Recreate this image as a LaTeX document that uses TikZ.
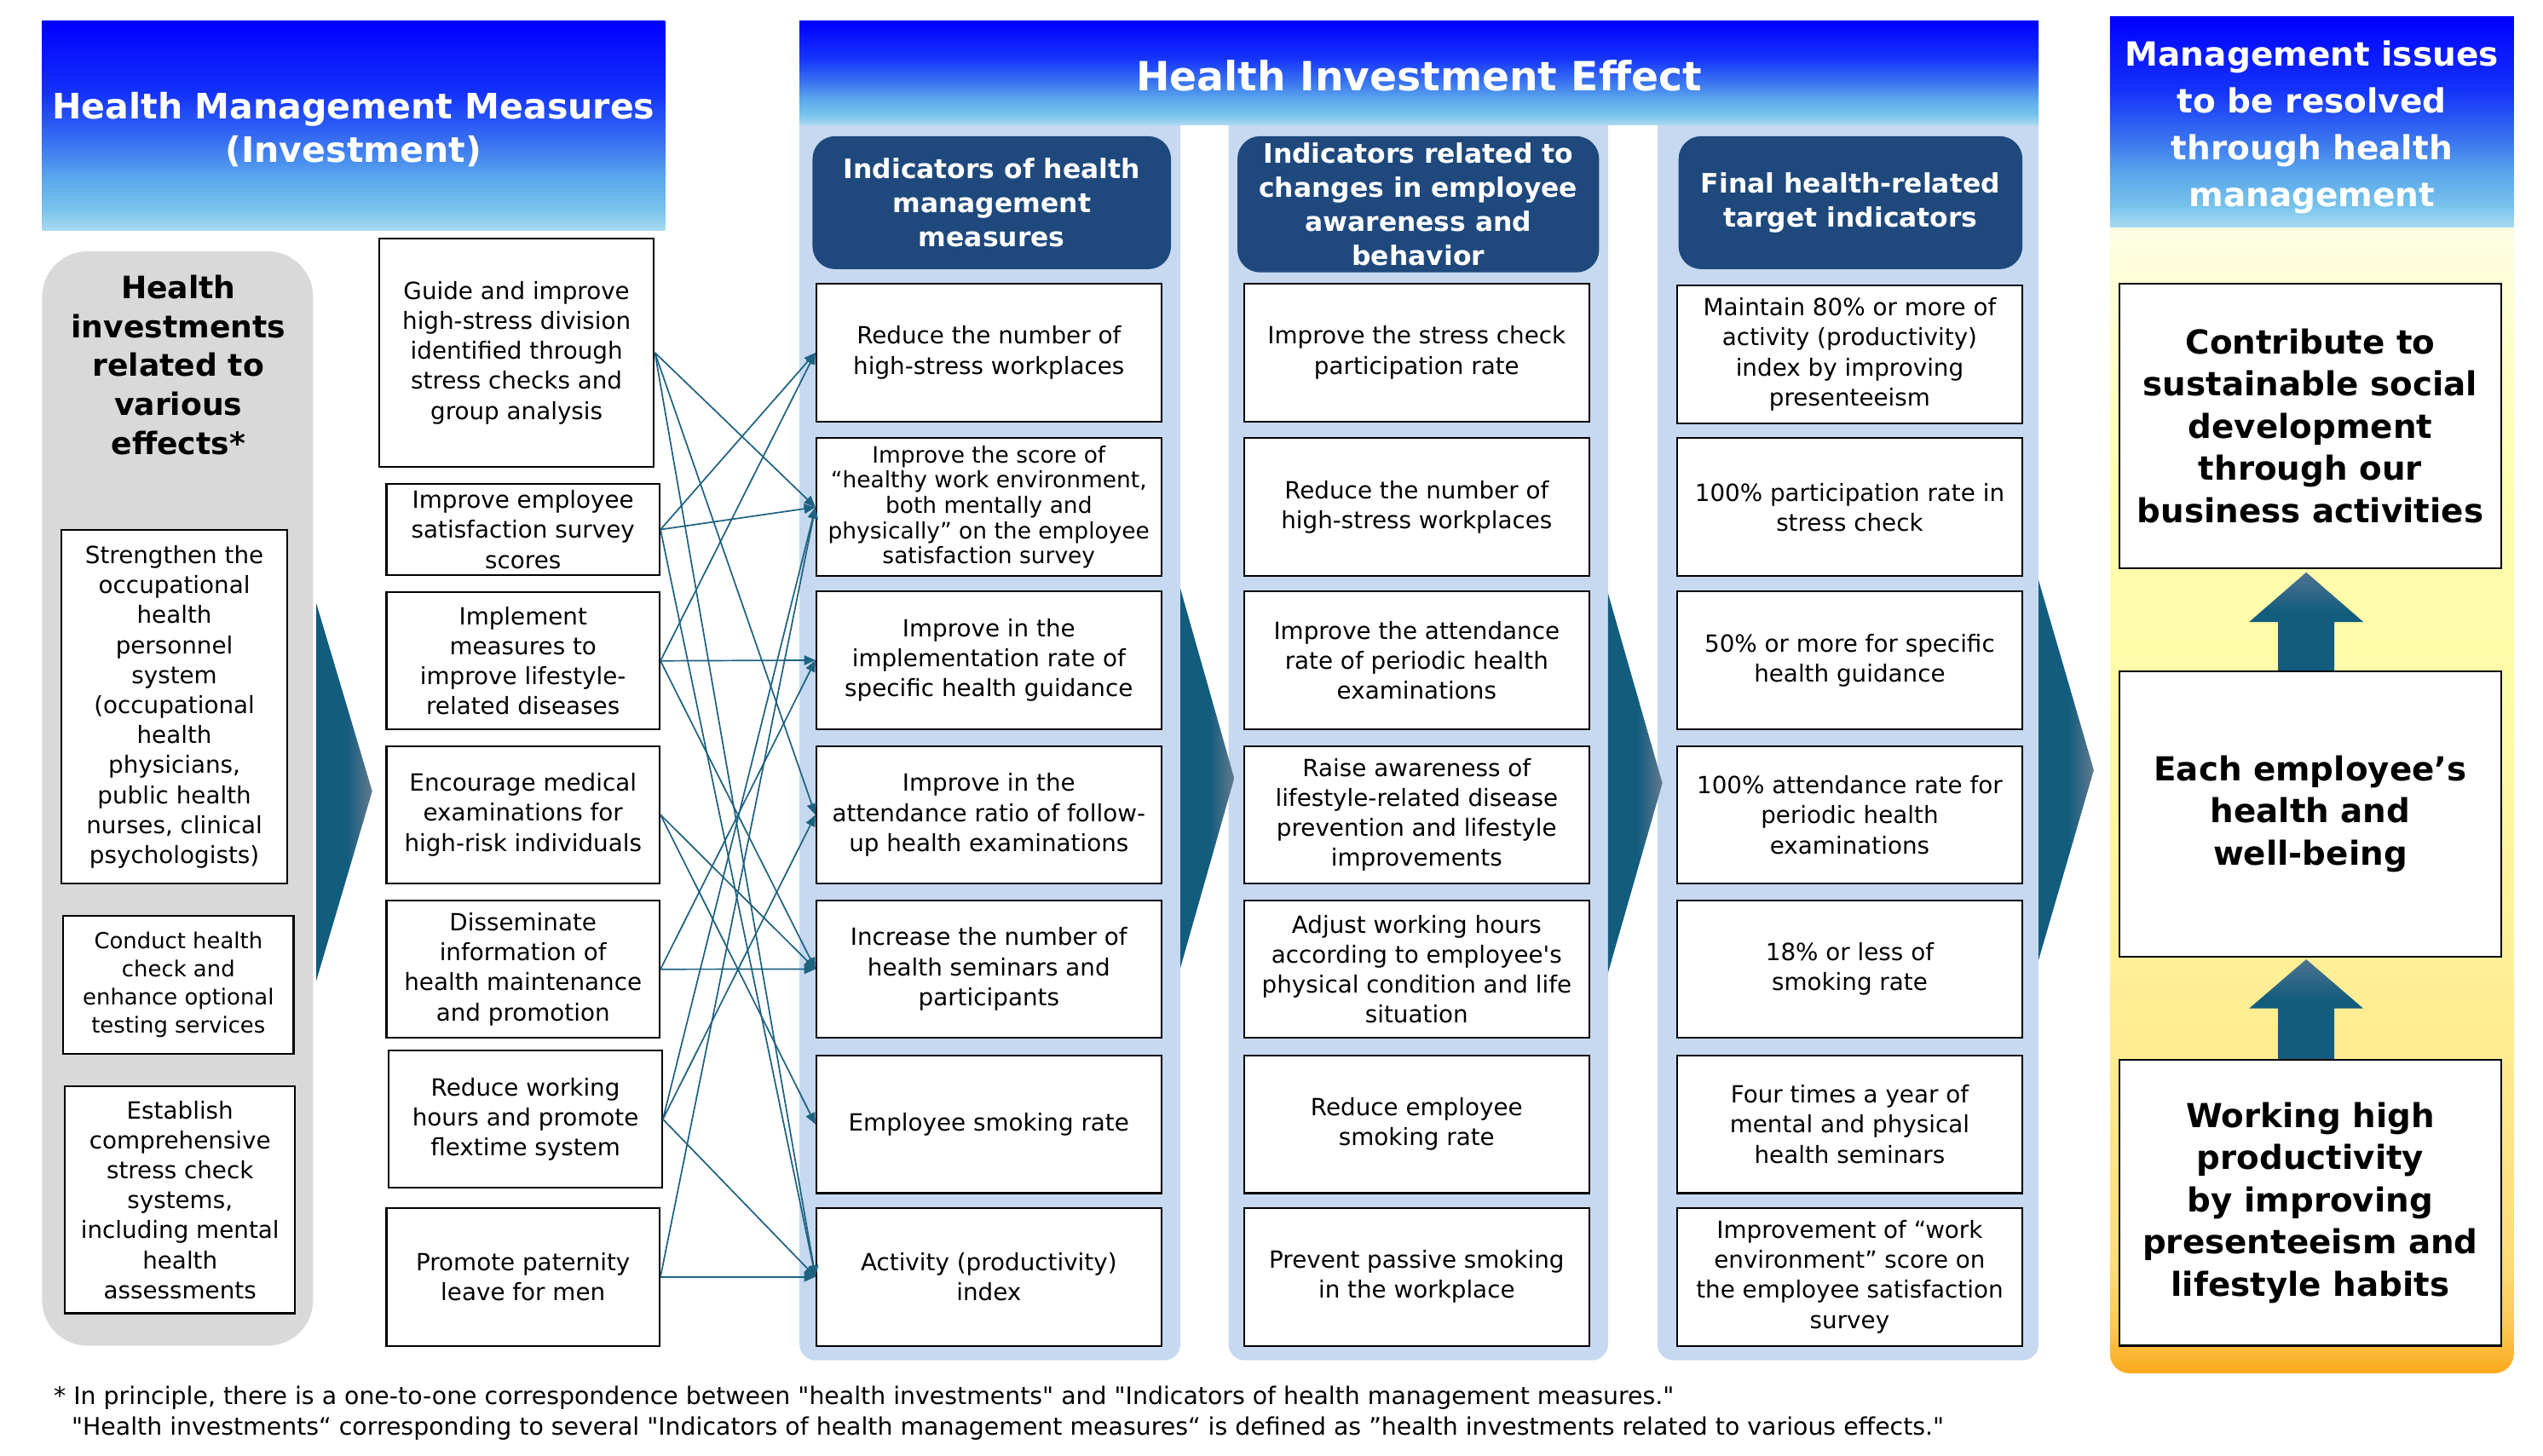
\documentclass[tikz,border=0pt]{standalone}
\usepackage{fontspec}
\setmainfont{DejaVu Sans}[Ligatures=TeXOff]
\usetikzlibrary{arrows.meta}
\definecolor{conncol}{RGB}{30,98,128}
\definecolor{lightcol}{RGB}{198,217,241}
\definecolor{darkhdr}{RGB}{31,73,125}
\definecolor{grayL}{RGB}{217,217,217}
\definecolor{chevdark}{RGB}{18,92,126}
\definecolor{chevlight}{RGB}{100,122,142}
\definecolor{arrtop}{RGB}{78,115,145}
\definecolor{hbA}{RGB}{170,218,242}
\definecolor{hbB}{RGB}{120,195,235}
\definecolor{hbC}{RGB}{90,168,236}
\definecolor{hbD}{RGB}{60,120,240}
\definecolor{hbE}{RGB}{20,50,250}
\definecolor{hbF}{RGB}{0,0,255}
\definecolor{yA}{RGB}{250,168,28}
\definecolor{yB}{RGB}{253,200,80}
\definecolor{yC}{RGB}{255,220,120}
\definecolor{yD}{RGB}{255,235,145}
\definecolor{yE}{RGB}{255,250,165}
\definecolor{yF}{RGB}{255,255,175}
\definecolor{yG}{RGB}{255,255,205}
\definecolor{yH}{RGB}{252,252,228}
\pgfdeclareverticalshading{hdrblue}{100bp}{color(0bp)=(hbA); color(25bp)=(hbA); color(30bp)=(hbB); color(37.5bp)=(hbC); color(45bp)=(hbD); color(57.5bp)=(hbE); color(75bp)=(hbF); color(100bp)=(hbF)}
\pgfdeclareverticalshading{yellowsh}{100bp}{color(0bp)=(yA); color(25bp)=(yA); color(26.9bp)=(yB); color(29.6bp)=(yC); color(38.5bp)=(yD); color(52.3bp)=(yE); color(62.6bp)=(yF); color(69.5bp)=(yG); color(73.6bp)=(yH); color(75bp)=(yH); color(100bp)=(yH)}
\pgfdeclarehorizontalshading{chevsh}{100bp}{color(0bp)=(chevdark); color(25bp)=(chevdark); color(52bp)=(chevdark); color(75bp)=(chevlight); color(100bp)=(chevlight)}
\pgfdeclareverticalshading{upsh}{100bp}{color(0bp)=(chevdark); color(25bp)=(chevdark); color(55bp)=(chevdark); color(75bp)=(arrtop); color(100bp)=(arrtop)}
\begin{document}
\begin{tikzpicture}[x=1pt,y=-1pt,
 box/.style={draw=black,line width=1.1pt,fill=white,align=center,inner sep=0pt,font=\fontsize{14.6}{18.5}\selectfont},
 acol/.style={box,minimum width=212.7pt,minimum height=85pt},
 bcol/.style={box,minimum width=213pt,minimum height=85pt},
 ccol/.style={box,minimum width=213pt,minimum height=85pt},
 mcol/.style={box,minimum width=168.4pt,minimum height=84.5pt},
 colhdr/.style={fill=darkhdr,rounded corners=14pt,text=white,align=center,inner sep=0pt,font=\bfseries\fontsize{16.5}{21}\selectfont},
 hdrbg/.style={shading=hdrblue},
 hdrtext/.style={text=white,align=center,inner sep=0pt,font=\bfseries\fontsize{21.6}{27}\selectfont},
 bigbox/.style={box,minimum width=235pt,font=\bfseries\fontsize{20.4}{26}\selectfont},
 conn/.style={draw=conncol,line width=0.9pt,-{Triangle[length=7pt,width=6pt]}},
 chev/.style={shading=chevsh},
 uparr/.style={shading=upsh},
 foot/.style={anchor=base west,inner sep=0pt,font=\fontsize{14.9}{19}\selectfont}]
\useasboundingbox (0,0) rectangle (1568,898);
\fill[white] (0,0) rectangle (1568,898);
% column backgrounds
\fill[lightcol,rounded corners=10pt] (493,60) rectangle (727.8,839);
\fill[lightcol,rounded corners=10pt] (757.5,60) rectangle (991.5,839);
\fill[lightcol,rounded corners=10pt] (1022,60) rectangle (1257,839);
\path[shading=yellowsh,rounded corners=12pt] (1301,120) rectangle (1550,847);
\fill[grayL,rounded corners=28pt] (26,155) rectangle (193,830);
% headers
\path[hdrbg] (26,13) rectangle (410,142);
\path[hdrbg] (493,13) rectangle (1257,77);
\path[hdrbg] (1301,10) rectangle (1550,140);
\node[hdrtext] (hL) at (218,80) {Health Management Measures\\(Investment)};
\node[hdrtext,font=\bfseries\fontsize{24.8}{30}\selectfont] (hM) at (875,46.5) {Health Investment Effect};
\node[hdrtext,font=\bfseries\fontsize{20.5}{29}\selectfont] (hR) at (1425.5,78.5) {Management issues\\to be resolved\\through health\\management};
% chevrons
\path[chev] (195,372) -- (229.5,488) -- (195,605) -- cycle;
\path[chev] (727.8,363) -- (761,480) -- (727.8,597) -- cycle;
\path[chev] (991.5,366) -- (1025,483) -- (991.5,600) -- cycle;
\path[chev] (1257,358) -- (1291,475) -- (1257,592) -- cycle;
% up arrows
\path[uparr] (1422,353) -- (1457.2,383.6) -- (1439.3,383.6) -- (1439.3,414) -- (1404.6,414) -- (1404.6,383.6) -- (1386.8,383.6) -- cycle;
\path[uparr] (1422,591.7) -- (1457.2,622) -- (1439.3,622) -- (1439.3,653.7) -- (1404.6,653.7) -- (1404.6,622) -- (1386.8,622) -- cycle;
% left group
\node[align=center,inner sep=0pt,font=\bfseries\fontsize{19}{24}\selectfont] (gT) at (110,225) {Health\\investments\\related to\\various\\effects*};
\node[box,minimum width=139pt,minimum height=218pt] (L1) at (107.5,436) {Strengthen the\\occupational\\health\\personnel\\system\\(occupational\\health\\physicians,\\public health\\nurses, clinical\\psychologists)};
\node[box,minimum width=142pt,minimum height=85pt,font=\fontsize{13.6}{17.3}\selectfont] (L2) at (110,607.5) {Conduct health\\check and\\enhance optional\\testing services};
\node[box,minimum width=142pt,minimum height=140pt] (L3) at (111,740) {Establish\\comprehensive\\stress check\\systems,\\including mental\\health\\assessments};
% measures
\node[box,minimum width=169.5pt,minimum height=141pt] (M1) at (318.5,217.5) {Guide and improve\\high-stress division\\identified through\\stress checks and\\group analysis};
\node[mcol,minimum height=56.2pt] (M2) at (322.5,326.6) {Improve employee\\satisfaction survey\\scores};
\node[mcol] (M3) at (322.5,407.6) {Implement\\measures to\\improve lifestyle-\\related diseases};
\node[mcol] (M4) at (322.5,502.5) {Encourage medical\\examinations for\\high-risk individuals};
\node[mcol] (M5) at (322.5,597.8) {Disseminate\\information of\\health maintenance\\and promotion};
\node[mcol] (M6) at (324,690.3) {Reduce working\\hours and promote\\flextime system};
\node[mcol,minimum height=85pt] (M7) at (322.5,787.5) {Promote paternity\\leave for men};
% column headers
\node[colhdr,minimum width=221pt,minimum height=82pt] (H1) at (611.5,125) {Indicators of health\\management\\measures};
\node[colhdr,minimum width=223pt,minimum height=84pt] (H2) at (874.5,126) {Indicators related to\\changes in employee\\awareness and\\behavior};
\node[colhdr,minimum width=212pt,minimum height=82pt] (H3) at (1141,125) {Final health-related\\target indicators};
% column A
\node[acol] (A1) at (609.7,217.5) {Reduce the number of\\high-stress workplaces};
\node[acol,font=\fontsize{13.9}{15.6}\selectfont] (A2) at (609.7,312.8) {Improve the score of\\“healthy work environment,\\both mentally and\\physically” on the employee\\satisfaction survey};
\node[acol] (A3) at (609.7,407.2) {Improve in the\\implementation rate of\\specific health guidance};
\node[acol] (A4) at (609.7,502.6) {Improve in the\\attendance ratio of follow-\\up health examinations};
\node[acol] (A5) at (609.7,597.7) {Increase the number of\\health seminars and\\participants};
\node[acol] (A6) at (609.7,693.4) {Employee smoking rate};
\node[acol] (A7) at (609.7,787.5) {Activity (productivity)\\index};
% column B
\node[bcol] (B1) at (873.5,217.5) {Improve the stress check\\participation rate};
\node[bcol] (B2) at (873.5,312.8) {Reduce the number of\\high-stress workplaces};
\node[bcol] (B3) at (873.5,407.2) {Improve the attendance\\rate of periodic health\\examinations};
\node[bcol] (B4) at (873.5,502.6) {Raise awareness of\\lifestyle-related disease\\prevention and lifestyle\\improvements};
\node[bcol] (B5) at (873.5,597.7) {Adjust working hours\\according to employee's\\physical condition and life\\situation};
\node[bcol] (B6) at (873.5,693.4) {Reduce employee\\smoking rate};
\node[bcol] (B7) at (873.5,787.5) {Prevent passive smoking\\in the workplace};
% column C
\node[ccol] (C1) at (1140.5,218.5) {Maintain 80\% or more of\\activity (productivity)\\index by improving\\presenteeism};
\node[ccol] (C2) at (1140.5,312.8) {100\% participation rate in\\stress check};
\node[ccol] (C3) at (1140.5,407.2) {50\% or more for specific\\health guidance};
\node[ccol] (C4) at (1140.5,502.6) {100\% attendance rate for\\periodic health\\examinations};
\node[ccol] (C5) at (1140.5,597.7) {18\% or less of\\smoking rate};
\node[ccol] (C6) at (1140.5,693.4) {Four times a year of\\mental and physical\\health seminars};
\node[ccol] (C7) at (1140.5,787.5) {Improvement of “work\\environment” score on\\the employee satisfaction\\survey};
% right boxes
\node[bigbox,minimum height=175.5pt] (R1) at (1424.5,262.7) {Contribute to\\sustainable social\\development\\through our\\business activities};
\node[bigbox,minimum height=176pt] (R2) at (1424.5,502) {Each employee’s\\health and\\well-being};
\node[bigbox,minimum height=176.3pt] (R3) at (1424.5,741.8) {Working high\\productivity\\by improving\\presenteeism and\\lifestyle habits};
% connectors
\draw[conn] (M1.east) -- (A2.west);
\draw[conn] (M1.east) -- (A4.west);
\draw[conn] (M1.east) -- (A7.west);
\draw[conn] (M2.east) -- (A1.west);
\draw[conn] (M2.east) -- (A2.west);
\draw[conn] (M2.east) -- (A7.west);
\draw[conn] (M3.east) -- (A1.west);
\draw[conn] (M3.east) -- (A3.west);
\draw[conn] (M3.east) -- (A5.west);
\draw[conn] (M4.east) -- (A5.west);
\draw[conn] (M4.east) -- (A6.west);
\draw[conn] (M5.east) -- (A3.west);
\draw[conn] (M5.east) -- (A5.west);
\draw[conn] (M6.east) -- (A2.west);
\draw[conn] (M6.east) -- (A4.west);
\draw[conn] (M6.east) -- (A7.west);
\draw[conn] (M7.east) -- (A2.west);
\draw[conn] (M7.east) -- (A7.west);
% footnote
\node[foot] (fn1) at (33,866) {* In principle, there is a one-to-one correspondence between "health investments" and "Indicators of health management measures."};
\node[foot] (fn2) at (44,885) {"Health investments“ corresponding to several "Indicators of health management measures“ is defined as ”health investments related to various effects."};
\end{tikzpicture}
\end{document}
